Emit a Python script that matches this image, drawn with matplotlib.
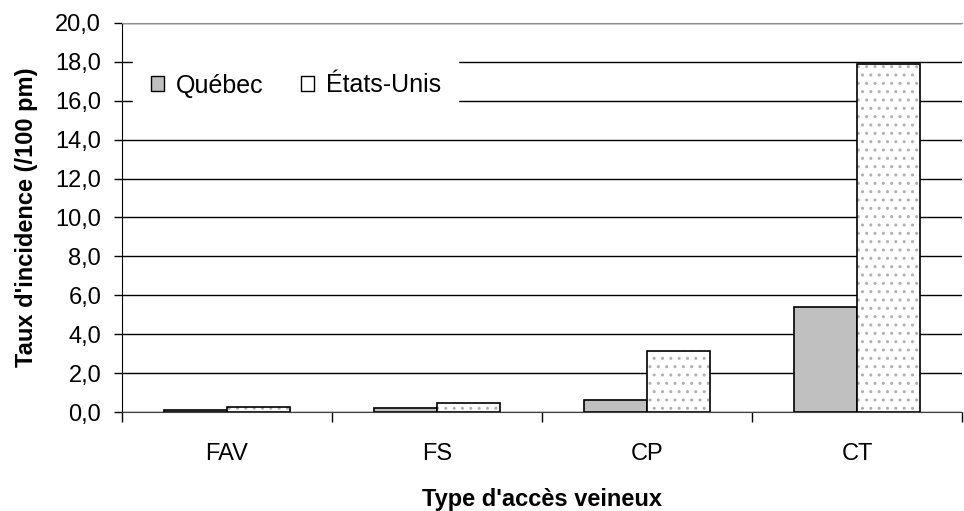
import numpy as np
import matplotlib.pyplot as plt
from matplotlib.patches import Patch

plt.rcParams['font.family'] = ['Liberation Sans', 'DejaVu Sans']

# donnees
categories = ['FAV', 'FS', 'CP', 'CT']
quebec = [0.12, 0.2, 0.63, 5.4]
etats_unis = [0.24, 0.45, 3.14, 17.9]
yticks = np.arange(0, 21, 2)

fig = plt.figure(figsize=(9.64, 5.11), dpi=100)
ax = fig.add_axes([122/964, 1-412/511, 840/964, 389/511])

x = np.arange(len(categories))
w = 0.3

# Québec : gris plein
ax.bar(x - w/2, quebec, w, color='#c0c0c0', edgecolor='black', linewidth=1.2, zorder=3)
# Etats-Unis : trame pointillee grise, puis contour noir
ax.bar(x + w/2, etats_unis, w, color='white', edgecolor='#b0b0b0', hatch='..', linewidth=0, zorder=3)
ax.bar(x + w/2, etats_unis, w, fill=False, edgecolor='black', linewidth=1.2, zorder=4)

ax.set_xlim(-0.5, len(categories) - 0.5)
ax.set_ylim(0, 20)
ax.set_yticks(yticks)
ax.set_yticklabels(['{:.1f}'.format(v).replace('.', ',') for v in yticks], fontsize=17)
ax.yaxis.grid(True, color='black', linewidth=1)
ax.set_axisbelow(True)

ax.set_xticks(x)
ax.set_xticklabels(categories, fontsize=17)
ax.set_xticks(np.arange(-0.5, len(categories)), minor=True)
ax.tick_params(axis='x', which='major', length=0, pad=22)
ax.tick_params(axis='x', which='minor', length=7, color='black', width=1)
ax.tick_params(axis='y', length=6, color='black', width=1, pad=9)

ax.spines['right'].set_visible(False)
ax.spines['top'].set_color('#909090')
ax.spines['left'].set_color('black')
ax.spines['bottom'].set_color('#404040')

ax.set_ylabel("Taux d'incidence (/100 pm)", fontsize=17, fontweight='bold', labelpad=12)
ax.set_xlabel("Type d'accès veineux", fontsize=17, fontweight='bold', labelpad=17)

handles = [Patch(facecolor='#c0c0c0', edgecolor='black', linewidth=1),
           Patch(facecolor='white', edgecolor='black', linewidth=1)]
leg = ax.legend(handles, ['Québec', 'États-Unis'], loc='upper left', ncol=2,
                bbox_to_anchor=(133/964, 1-56/511), bbox_transform=fig.transFigure,
                fontsize=18, frameon=True, fancybox=False,
                edgecolor='white', framealpha=1, handlelength=0.55, handleheight=0.55,
                handletextpad=0.45, columnspacing=1.5, borderpad=0.7, borderaxespad=0)

fig.savefig('out.png', dpi=100)
